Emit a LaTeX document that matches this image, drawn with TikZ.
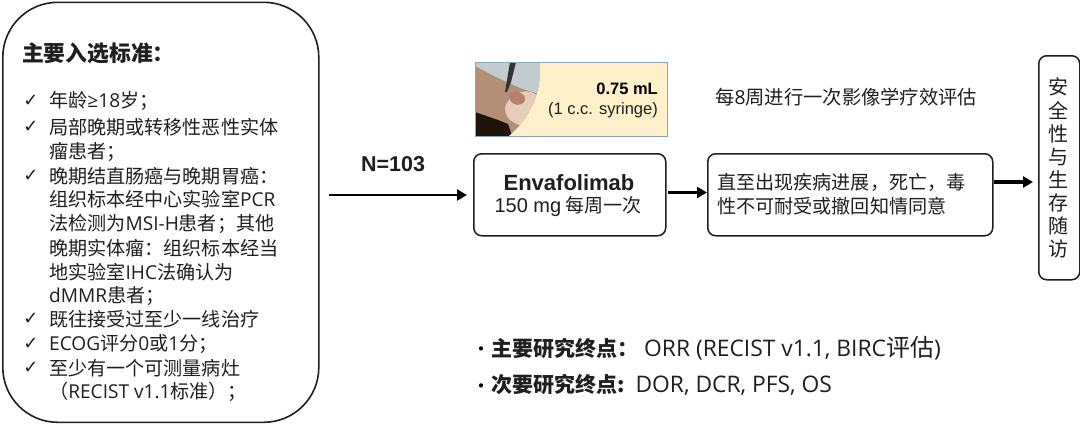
\documentclass[tikz,border=0pt]{standalone}
\usepackage{fontspec}
\setmainfont{Noto Sans CJK SC}
\newfontfamily\arialf{Liberation Sans}
\newfontfamily\sym{DejaVu Sans}
\newfontfamily\lat{Open Sans}
\newcommand{\ltn}[1]{{\lat #1}}
\newcommand{\biglat}[1]{{\lat\fontsize{22.8}{22}\selectfont #1}}
\usetikzlibrary{arrows.meta}
\definecolor{ink}{HTML}{1F1F1F}
\definecolor{tan}{HTML}{FFF0CC}
\definecolor{edgeb}{HTML}{8AA5BE}
\tikzset{
 x=1pt,y=-1pt,
 panel/.style={draw=ink,line width=1.5pt,fill=white,rounded corners=8pt},
 lt/.style={anchor=west,inner sep=0,text=ink,font=\fontsize{19.1}{19}\selectfont},
 ck/.style={anchor=center,inner sep=0,text=ink,font=\sym\fontsize{18}{18}\selectfont},
 flow/.style={draw=black,line width=3.2pt,-{Triangle[length=10pt,width=11pt]}},
 big/.style={anchor=west,inner sep=0,text=ink,font=\fontsize{21}{21}\selectfont},
}
\begin{document}
\begin{tikzpicture}
\useasboundingbox (0,0) rectangle (1080,424);
\fill[white] (0,0) rectangle (1080,424);
% left panel
\node[draw=ink,line width=1.6pt,fill=white,rounded corners=55pt,minimum width=316pt,minimum height=420pt,inner sep=0,anchor=north west] (crit) at (2,1.5) {};
\node[anchor=west,inner sep=0,text=ink,font=\bfseries\fontsize{21.8}{21}\selectfont] (title) at (22,53) {主要入选标准：};
\foreach \n/\y in {a/101,b/127,c/176,d/319,e/344,f/368}{
 \node[ck] (ck\n) at (31,\y) {✓};
}
\node[lt] (l1) at (49,101) {年龄\ltn{≥18}岁；};
\node[lt] (l2) at (49,127) {局部晚期或转移性恶性实体};
\node[lt] (l3) at (49,152) {瘤患者；};
\node[lt] (l4) at (49,176) {晚期结直肠癌与晚期胃癌：};
\node[lt] (l5) at (49,199) {组织标本经中心实验室\ltn{PCR}};
\node[lt] (l6) at (49,224) {法检测为\ltn{MSI-H}患者；其他};
\node[lt] (l7) at (49,248) {晚期实体瘤：组织标本经当};
\node[lt] (l8) at (49,272) {地实验室\ltn{IHC}法确认为};
\node[lt] (l9) at (49,296) {\ltn{dMMR}患者；};
\node[lt] (l10) at (49,319) {既往接受过至少一线治疗};
\node[lt] (l11) at (49,344) {\ltn{ECOG}评分\ltn{0}或\ltn{1}分；};
\node[lt] (l12) at (49,368) {至少有一个可测量病灶};
\node[lt] (l13) at (49,392) {（\ltn{RECIST v1.1}标准）；};
% N label
\node[inner sep=0,text=ink,font=\arialf\bfseries\fontsize{21.5}{21}\selectfont] (n) at (393,164) {N=103};
% syringe image panel
\definecolor{armc}{HTML}{B28F76}
\definecolor{handc}{HTML}{E6CDB8}
\definecolor{shirt}{HTML}{C3CBCF}
\definecolor{knuck}{HTML}{B5806E}
\begin{scope}
\fill[tan] (475,62) rectangle (667,136);
\clip (475,62) rectangle (667,136);
\clip (455,70) circle (85pt);
\fill[armc] (475,62) rectangle (545,136);
\fill[shirt] (475,62) -- (545,62) -- (545,96) -- (520,88) -- (498,78) -- (475,66) -- cycle;
\fill[black!80] (510,62) -- (516,62) -- (511,82) -- (507,92) -- (505,92) -- cycle;
\fill[black!85!brown] (475,112) -- (498,120) -- (508,124) -- (512,136) -- (475,136) -- cycle;
\fill[handc] (505,108) .. controls (510,88) and (540,85) .. (540,105) -- (540,136) -- (513,122) .. controls (508,120) and (505,114) .. (505,108) -- cycle;
\fill[knuck] (510,92) .. controls (518,90) and (527,95) .. (525,100) .. controls (522,108) and (512,105) .. (510,100) -- cycle;
\end{scope}
\draw[edgeb,line width=1pt] (475,62) rectangle (667,136);
\node[anchor=east,inner sep=0,text=black,font=\arialf\bfseries\fontsize{16.5}{16}\selectfont] (dose) at (658,89) {0.75 mL};
\node[anchor=east,inner sep=0,text=ink,font=\arialf\fontsize{16.5}{16}\selectfont] (syr) at (658,110) {(1 c.c. syringe)};
\node[anchor=west,inner sep=0,text=ink,font=\fontsize{19.3}{19}\selectfont] (scan) at (715,97) {每\ltn{8}周进行一次影像学疗效评估};
% boxes
\node[panel,minimum width=192pt,minimum height=82pt,inner sep=0,anchor=north west] (drug) at (473,153) {};
\node[inner sep=0,text=ink,font=\arialf\bfseries\fontsize{22}{22}\selectfont] (drug1) at (569,183) {Envafolimab};
\node[inner sep=0,text=ink,font=\fontsize{19}{19}\selectfont] (drug2) at (568,207) {{\arialf\fontsize{20}{20}\selectfont 150 mg} 每周一次};
\node[panel,minimum width=285pt,minimum height=82pt,inner sep=0,anchor=north west] (until) at (707,153) {};
\node[lt] (u1) at (717,182) {直至出现疾病进展，死亡，毒};
\node[lt] (u2) at (717,206) {性不可耐受或撤回知情同意};
\node[panel,minimum width=41pt,minimum height=224pt,inner sep=0,anchor=north west] (safe) at (1038,55) {};
\foreach \c [count=\i] in {安,全,性,与,生,存,随,访}{
 \node[inner sep=0,text=ink,font=\fontsize{20}{20}\selectfont] (s\i) at (1058,{87+(\i-1)*23.2}) {\c};
}
% connectors
\coordinate (st) at (329,195);
\coordinate (en) at (467,195);
\coordinate (gapa) at (1033,182);
\coordinate (gapb) at (668,192.5);
\draw[flow,line width=2.6pt] (st) -- (en);
\draw[flow] (gapb) -- (until.west |- gapb);
\draw[flow] (until.east |- gapa) -- (gapa);
% endpoints
\node[anchor=base,inner sep=0,text=black,font=\fontsize{20}{20}\selectfont] (b1) at (481,356) {•};
\node[anchor=base,inner sep=0,text=black,font=\fontsize{20}{20}\selectfont] (b2) at (481,393) {•};
\node[big] (e1) at (491,348) {\textbf{主要研究终点：}\hspace{6pt}\biglat{ORR (RECIST v1.1, BIRC}{\fontsize{24}{24}\selectfont 评估}\biglat{)}};
\node[big] (e2) at (491,385) {\textbf{次要研究终点:}\hspace{11pt}\biglat{DOR, DCR, PFS, OS}};
\end{tikzpicture}
\end{document}
